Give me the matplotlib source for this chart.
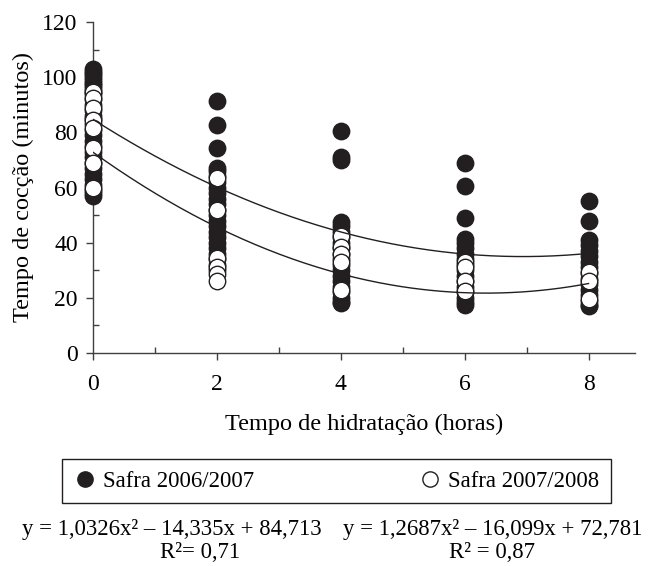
import numpy as np
import matplotlib
matplotlib.use("Agg")
import matplotlib.pyplot as plt
from matplotlib.lines import Line2D

plt.rcParams["font.family"] = ["Liberation Serif", "DejaVu Serif"]

# hydration time (h) and cooking time (min)
hours = [0, 2, 4, 6, 8]

safra_0607 = {
    0: [103, 102, 101, 100, 99, 98, 97, 96, 95, 94, 92, 90, 88, 86, 85, 83, 81, 79,
        77, 75, 73, 71, 69, 67, 65, 63, 61, 59, 58, 57],
    2: [91.5, 82.5, 74.5, 67, 66, 64, 62, 60, 58, 56, 54, 52, 50, 48, 46, 44, 42,
        40, 38, 36, 34, 32, 30],
    4: [80.5, 71, 70, 47.5, 46, 44, 42, 40, 38, 36, 34, 32, 30, 28, 26, 24, 22, 20,
        18.5, 18],
    6: [69, 60.5, 49, 41.5, 40, 38, 36, 34, 32, 30, 28, 26, 24, 22, 20, 18.5, 17.5],
    8: [55, 48, 41, 39, 37, 35, 33, 31, 29, 27, 25, 23, 21, 19, 17.5, 17],
}
safra_0708 = {
    0: [94.5, 92.5, 89, 84.5, 81.5, 74.5, 69, 60],
    2: [63.5, 52, 34.5, 31, 28.5, 26],
    4: [42.5, 38.5, 36, 33, 23],
    6: [33, 31, 26, 22.5],
    8: [29.5, 26, 19.5],
}

# quadratic fits (a, b, c) for y = a x^2 + b x + c
fit_0607 = (1.0326, -14.335, 84.713)
fit_0708 = (1.2687, -16.099, 72.781)

label_0607 = "Safra 2006/2007"
label_0708 = "Safra 2007/2008"
eq_0607 = "y = 1,0326x\u00b2 \u2013 14,335x + 84,713"
eq_0708 = "y = 1,2687x\u00b2 \u2013 16,099x + 72,781"
r2_0607 = "R\u00b2= 0,71"
r2_0708 = "R\u00b2 = 0,87"

W, H = 649, 566
fig = plt.figure(figsize=(W / 100, H / 100), dpi=100)
ax = fig.add_axes([93 / W, 1 - 353 / H, (635 - 93) / W, (353 - 22) / H])

ms = 140
for h in hours:
    ys = safra_0607[h]
    ax.scatter([h] * len(ys), ys, s=ms, c="#231f20", edgecolors="#231f20",
               linewidths=1, zorder=3, clip_on=False)
for h in hours:
    ys = safra_0708[h]
    ax.scatter([h] * len(ys), ys, s=ms, c="white", edgecolors="#231f20",
               linewidths=1, zorder=4, clip_on=False)

xx = np.linspace(0, 8, 200)
for a, b, c in (fit_0607, fit_0708):
    ax.plot(xx, a * xx ** 2 + b * xx + c, color="#231f20", lw=1.0, zorder=5)

ax.set_xlim(0, 8.75)
ax.set_ylim(0, 120)
ax.set_xticks(hours)
ax.set_xticks([1, 3, 5, 7], minor=True)
ax.set_yticks(range(0, 121, 20))
ax.set_yticks(range(10, 120, 20), minor=True)
for s in ("top", "right"):
    ax.spines[s].set_visible(False)
for s in ("left", "bottom"):
    ax.spines[s].set_color("#404040")
    ax.spines[s].set_linewidth(1.0)
ax.tick_params(which="major", direction="out", length=5, width=1,
               color="#404040", labelsize=17, pad=6)
ax.tick_params(which="minor", direction="in", length=4, width=1, color="#404040")
ax.tick_params(axis="x", pad=10)

ax.set_xlabel("Tempo de hidratação (horas)", fontsize=17.5, labelpad=14)
ax.set_ylabel("Tempo de cocção (minutos)", fontsize=17.5, labelpad=6)

handles = [
    Line2D([], [], ls="", marker="o", ms=11, mfc="#231f20", mec="#231f20"),
    Line2D([], [], ls="", marker="o", ms=11, mfc="white", mec="#231f20"),
]
leg = fig.legend(handles, [label_0607, label_0708], ncol=2, mode="expand",
                 loc="lower left",
                 bbox_to_anchor=(62 / W, 1 - 503 / H, (611 - 62) / W, 48 / H),
                 fontsize=16.4, frameon=True, fancybox=False, framealpha=1,
                 edgecolor="#231f20", handletextpad=0.3, handlelength=1.0,
                 borderaxespad=0, borderpad=0.5)
leg.get_frame().set_linewidth(1.0)

fs = 16.4
fig.text(172 / W, 1 - 530 / H, eq_0607, ha="center", va="center", fontsize=fs)
fig.text(200 / W, 1 - 553 / H, r2_0607, ha="center", va="center", fontsize=fs)
fig.text(493 / W, 1 - 530 / H, eq_0708, ha="center", va="center", fontsize=fs)
fig.text(492 / W, 1 - 553 / H, r2_0708, ha="center", va="center", fontsize=fs)

fig.savefig("out.png", dpi=100)
